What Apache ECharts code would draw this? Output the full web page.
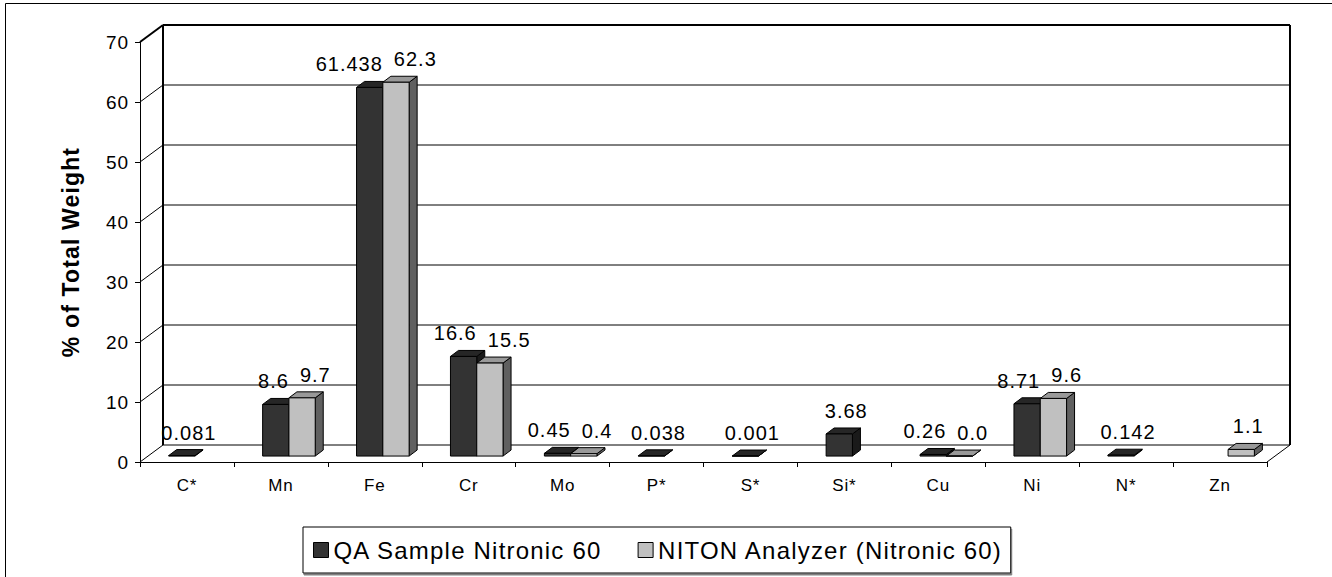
<!DOCTYPE html>
<html>
<head>
<meta charset="utf-8">
<title>Nitronic 60 composition</title>
<script src="https://cdn.jsdelivr.net/npm/echarts@6/dist/echarts.min.js"></script>
<style>
  html, body { margin: 0; padding: 0; background: #fff; }
  #chart { width: 1332px; height: 577px; }
  /* slightly spaced-out lettering of the chart texts */
  #chart svg text { letter-spacing: 0.05em; }
</style>
</head>
<body>
<div id="chart"></div>
<script>
// Element composition, % of total weight
const categories = ['C*', 'Mn', 'Fe', 'Cr', 'Mo', 'P*', 'S*', 'Si*', 'Cu', 'Ni', 'N*', 'Zn'];
const qaSample = [0.081, 8.6, 61.438, 16.6, 0.45, 0.038, 0.001, 3.68, 0.26, 8.71, 0.142, null];
const nitonAnalyzer = [null, 9.7, 62.3, 15.5, 0.4, null, null, null, 0.0, 9.6, null, 1.1];
const yTicks = [0, 10, 20, 30, 40, 50, 60, 70];
const seriesNames = ['QA Sample Nitronic 60', 'NITON Analyzer (Nitronic 60)'];

const FONT = '"Liberation Sans", Arial, sans-serif';

// depth of the box (back wall offset) and of each bar
const WALL_DX = 23, WALL_DY = -17;
const BAR_PLANE = 0.35;          // bars stand this far into the floor
const BAR_DX = 8, BAR_DY = -6;   // thickness of a bar
const BAR_FRAC = 0.28;           // bar width as a share of the category band

const faces = [
  { front: '#333333', top: '#262626', side: '#1a1a1a' },
  { front: '#c0c0c0', top: '#999999', side: '#606060' }
];

function hasPair(i) {
  return qaSample[i] != null && nitonAnalyzer[i] != null;
}

function barRenderer(sIdx) {
  return function (params, api) {
    const ci = api.value(0);
    const v = api.value(1);
    if (v == null || isNaN(v)) return null;
    const base = api.coord([ci, 0]);
    const top = api.coord([ci, v]);
    const band = api.size([1, 0])[0];
    const w = band * BAR_FRAC;
    const px = WALL_DX * BAR_PLANE, py = WALL_DY * BAR_PLANE;
    const x0 = base[0] + px + (sIdx === 0 ? -w : 0);
    const yb = base[1] + py;
    const yt = top[1] + py;
    const c = faces[sIdx];
    const edge = { stroke: '#000', lineWidth: 1 };

    const label = sIdx === 0 ? String(v) : v.toFixed(1);
    let lx, align;
    if (hasPair(ci)) {
      if (sIdx === 0) { lx = x0 + w; align = 'right'; }
      else { lx = x0 + 11; align = 'left'; }
    } else {
      lx = x0 + w / 2 + BAR_DX / 2 + 3; align = 'center';
    }

    return {
      type: 'group',
      children: [
        {
          type: 'polygon',
          shape: { points: [[x0 + w, yt], [x0 + w + BAR_DX, yt + BAR_DY], [x0 + w + BAR_DX, yb + BAR_DY], [x0 + w, yb]] },
          style: Object.assign({ fill: c.side }, edge)
        },
        {
          type: 'polygon',
          shape: { points: [[x0, yt], [x0 + w, yt], [x0 + w + BAR_DX, yt + BAR_DY], [x0 + BAR_DX, yt + BAR_DY]] },
          style: Object.assign({ fill: c.top }, edge)
        },
        {
          type: 'rect',
          shape: { x: x0, y: yt, width: w, height: Math.max(yb - yt, 0) },
          style: Object.assign({ fill: c.front }, edge)
        },
        {
          type: 'text',
          x: lx,
          y: yt + BAR_DY - 7,
          style: {
            text: label,
            fill: '#000',
            fontSize: 20,
            fontFamily: FONT,
            align: align,
            verticalAlign: 'bottom'
          }
        }
      ]
    };
  };
}

// walls and floor of the box
function frameRenderer(params, api) {
  const cs = params.coordSys;
  const L = cs.x, R = cs.x + cs.width, T = cs.y, B = cs.y + cs.height;
  const children = [];
  const line = (x1, y1, x2, y2, lw) => ({
    type: 'line',
    shape: { x1, y1, x2, y2 },
    style: { stroke: '#000', lineWidth: lw || 1 }
  });
  const topVal = yTicks[yTicks.length - 1];
  yTicks.forEach(t => {
    const y = api.coord([0, t])[1];
    const lw = t === topVal ? 2 : 1;
    children.push(line(L + WALL_DX, y + WALL_DY, R + WALL_DX, y + WALL_DY, lw));
    children.push(line(L, y, L + WALL_DX, y + WALL_DY, lw));
  });
  children.push(line(L + WALL_DX, T + WALL_DY, L + WALL_DX, B + WALL_DY, 2));
  children.push(line(R + WALL_DX, T + WALL_DY, R + WALL_DX, B + WALL_DY, 2));
  children.push(line(R, B, R + WALL_DX, B + WALL_DY, 1));
  return { type: 'group', children };
}

const chart = echarts.init(document.getElementById('chart'), null, { renderer: 'svg' });

chart.setOption({
  animation: false,
  backgroundColor: '#fff',
  textStyle: { fontFamily: FONT, color: '#000' },
  graphic: [{
    type: 'rect',
    shape: { x: 5.5, y: 3.5, width: 1500, height: 800 },
    style: { fill: 'none', stroke: '#000', lineWidth: 1 },
    z: -10
  }],
  grid: { left: 140, right: 65, top: 42, bottom: 115, containLabel: false },
  legend: {
    data: seriesNames,
    left: 303,
    top: 527,
    orient: 'horizontal',
    icon: 'rect',
    itemWidth: 15,
    itemHeight: 15,
    itemGap: 60,
    padding: [11, 41, 11, 10],
    borderColor: '#000',
    borderWidth: 1,
    backgroundColor: '#fff',
    shadowColor: '#808080',
    shadowOffsetX: 1,
    shadowOffsetY: 2,
    shadowBlur: 0,
    itemStyle: { borderColor: '#000', borderWidth: 1 },
    textStyle: { fontSize: 24, fontFamily: FONT, color: '#000', lineHeight: 24 },
    selectedMode: false
  },
  xAxis: {
    type: 'category',
    data: categories,
    boundaryGap: true,
    axisLine: { show: true, lineStyle: { color: '#000', width: 1 } },
    axisTick: { show: true, interval: 0, length: 5, lineStyle: { color: '#000' } },
    axisLabel: { interval: 0, margin: 15, fontSize: 17, fontFamily: FONT, color: '#000' },
    splitLine: { show: false }
  },
  yAxis: {
    type: 'value',
    min: 0,
    max: 70,
    interval: 10,
    name: '% of Total Weight',
    nameLocation: 'middle',
    nameRotate: 90,
    nameGap: 58,
    nameTextStyle: { fontSize: 23, fontWeight: 'bold', fontFamily: FONT, color: '#000' },
    axisLine: { show: true, lineStyle: { color: '#000', width: 1 } },
    axisTick: { show: true, length: 5, lineStyle: { color: '#000' } },
    axisLabel: { margin: 11, fontSize: 19, fontFamily: FONT, color: '#000' },
    splitLine: { show: false }
  },
  series: [
    {
      name: 'frame',
      type: 'custom',
      renderItem: frameRenderer,
      data: [[0, 0]],
      z: 1,
      silent: true,
      clip: false
    },
    {
      name: seriesNames[0],
      type: 'custom',
      renderItem: barRenderer(0),
      itemStyle: { color: faces[0].front },
      data: categories.map((c, i) => [i, qaSample[i] == null ? '-' : qaSample[i]]),
      z: 3,
      clip: false
    },
    {
      name: seriesNames[1],
      type: 'custom',
      renderItem: barRenderer(1),
      itemStyle: { color: faces[1].front },
      data: categories.map((c, i) => [i, nitonAnalyzer[i] == null ? '-' : nitonAnalyzer[i]]),
      z: 4,
      clip: false
    }
  ]
});
</script>
</body>
</html>
